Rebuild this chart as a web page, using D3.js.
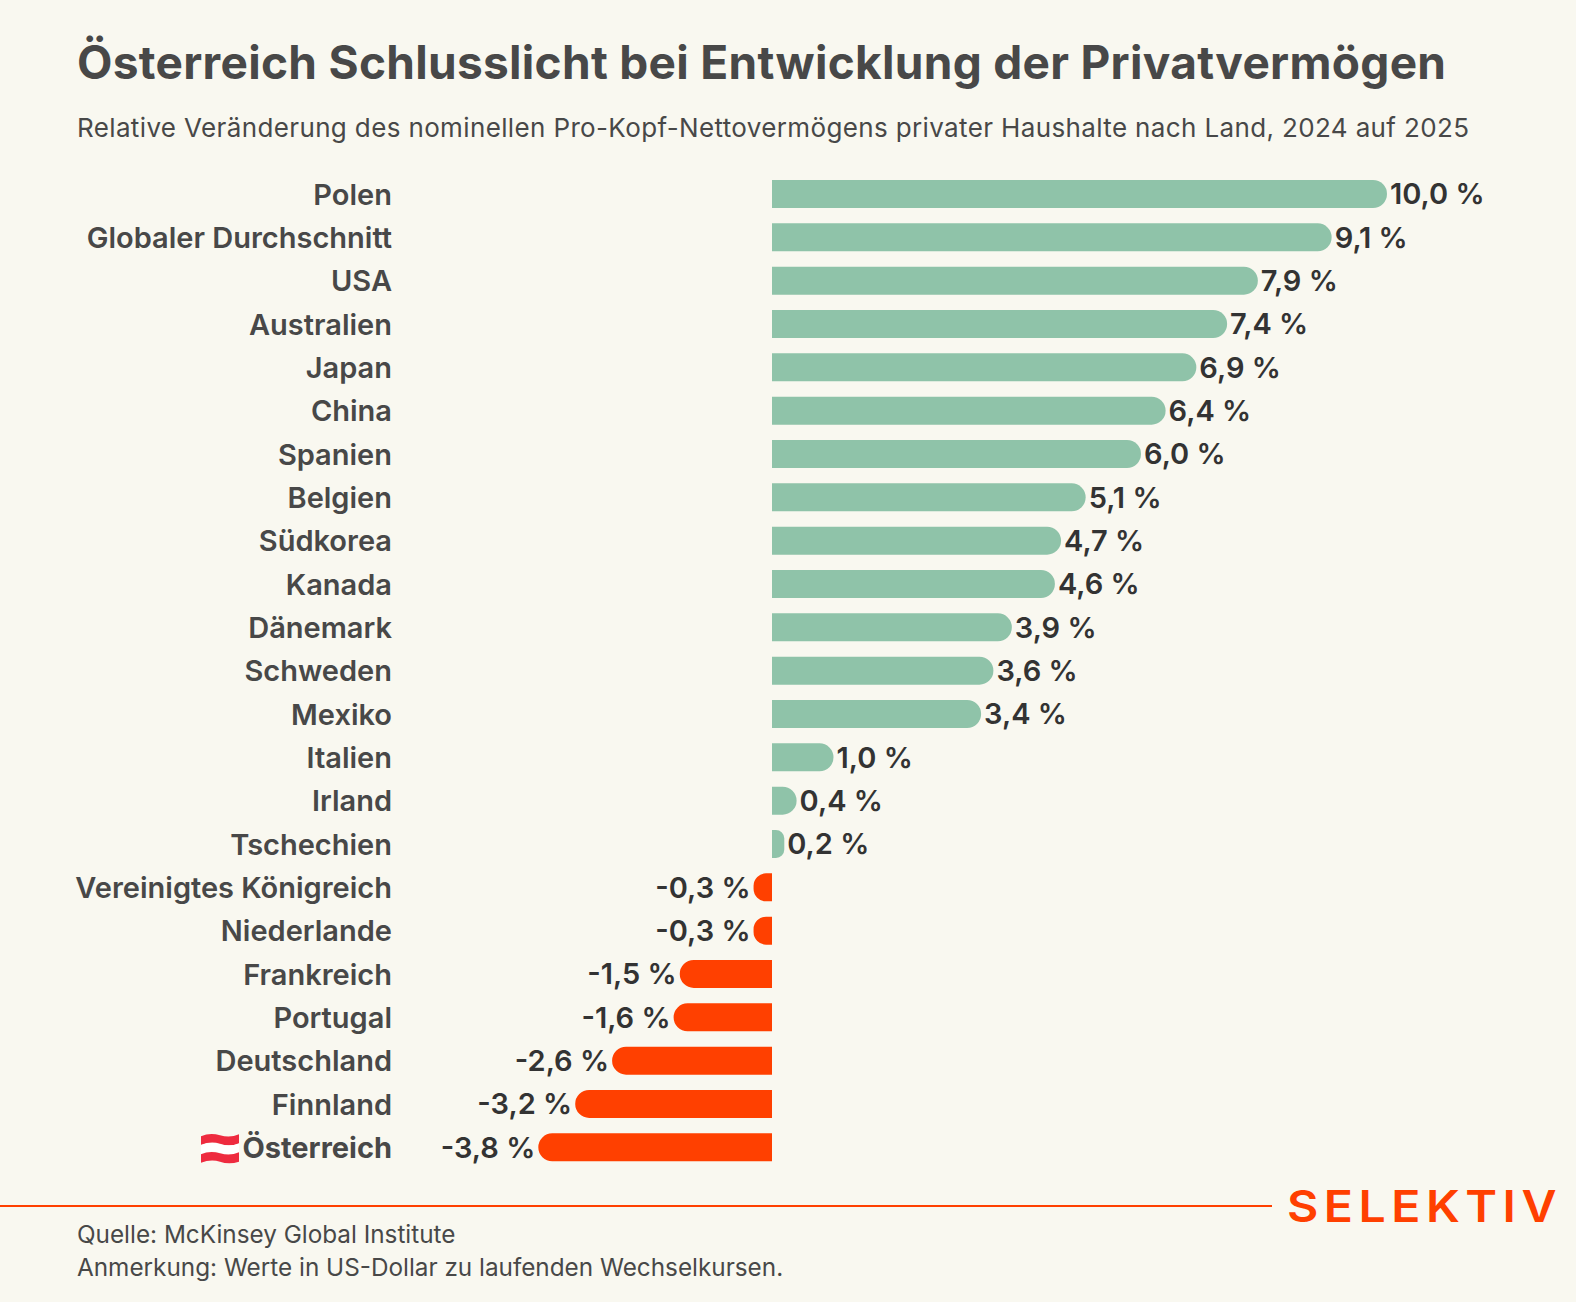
<!DOCTYPE html>
<html lang="de">

<head>
    <meta charset="UTF-8">
    <title>Österreich Schlusslicht bei Entwicklung der Privatvermögen</title>
    <script src="https://d3js.org/d3.v7.min.js"></script>
    <style>
        html, body { margin: 0; padding: 0; background: #F9F8F0; }
        svg { display: block; }
        text { font-family: Inter, "Noto Sans", sans-serif; }
    </style>
</head>

<body>
    <svg width="1576" height="1302"></svg>
    <script>
        const countries = ["Polen", "Globaler Durchschnitt", "USA", "Australien", "Japan", "China", "Spanien", "Belgien", "Südkorea", "Kanada", "Dänemark", "Schweden", "Mexiko", "Italien", "Irland", "Tschechien", "Vereinigtes Königreich", "Niederlande", "Frankreich", "Portugal", "Deutschland", "Finnland", "Österreich"];
        const values = [10.0, 9.1, 7.9, 7.4, 6.9, 6.4, 6.0, 5.1, 4.7, 4.6, 3.9, 3.6, 3.4, 1.0, 0.4, 0.2, -0.3, -0.3, -1.5, -1.6, -2.6, -3.2, -3.8];

        const titleText = "Österreich Schlusslicht bei Entwicklung der Privatvermögen";
        const subtitleText = "Relative Veränderung des nominellen Pro-Kopf-Nettovermögens privater Haushalte nach Land, 2024 auf 2025";
        const sourceLines = ["Quelle: McKinsey Global Institute", "Anmerkung: Werte in US-Dollar zu laufenden Wechselkursen."];

        const svg = d3.select("svg");
        const bg = "#F9F8F0", green = "#8FC3A9", orange = "#FF4000", grey = "#484848", dark = "#333333";

        svg.append("rect").attr("width", 1576).attr("height", 1302).attr("fill", bg);

        const x = d3.scaleLinear().domain([0, 10]).range([772, 1387]);
        const y = d3.scalePoint().domain(countries).range([194, 1147.3]);
        const barH = 28;

        svg.append("text").attr("x", 77).attr("y", 79)
            .attr("font-size", 46).attr("font-weight", 700).attr("fill", grey)
            .attr("textLength", 1369).attr("lengthAdjust", "spacing").text(titleText);

        svg.append("text").attr("x", 77).attr("y", 137)
            .attr("font-size", 26).attr("fill", grey)
            .attr("textLength", 1392).attr("lengthAdjust", "spacing").text(subtitleText);

        // country labels
        const yAxis = svg.append("g")
            .attr("transform", "translate(392,0)")
            .call(d3.axisLeft(y).tickSize(0).tickPadding(0));
        yAxis.select(".domain").remove();
        yAxis.selectAll("text")
            .attr("dy", null).attr("y", 10.3)
            .attr("font-size", 29).attr("font-weight", d => d === "Österreich" ? 700 : 600).attr("fill", grey)
            .style("font-family", "Inter, 'Noto Sans', sans-serif");

        // flat on the zero side, round on the outer end
        function barPath(v) {
            const x0 = x(0), x1 = x(v), w = Math.abs(x1 - x0), h = barH;
            const s = v < 0 ? -1 : 1;
            const r = Math.min(14, w * 0.68);
            const sweep = v < 0 ? 0 : 1;
            return `M${x0},${-h / 2}H${x1 - s * r}A${r},${r} 0 0 ${sweep} ${x1},${-h / 2 + r}` +
                `V${h / 2 - r}A${r},${r} 0 0 ${sweep} ${x1 - s * r},${h / 2}H${x0}Z`;
        }

        const rows = svg.append("g").selectAll("g")
            .data(values)
            .join("g")
            .attr("transform", (d, i) => `translate(0,${y(countries[i])})`);

        rows.append("path")
            .attr("d", d => barPath(d))
            .attr("fill", d => d < 0 ? orange : green);

        rows.append("text")
            .attr("x", d => x(d) + 3 * Math.sign(d))
            .attr("y", 10.3)
            .attr("text-anchor", d => d < 0 ? "end" : "start")
            .attr("font-size", 29).attr("font-weight", 600).attr("fill", dark)
            .text(d => d.toFixed(1).replace(".", ",") + " %");

        // flag in front of the last label
        const flag = svg.append("g").attr("transform", `translate(201,${y("Österreich")})`);
        const stripes = ["#EE2B3F", "#FFFFFF", "#EE2B3F"];
        flag.selectAll("path")
            .data(stripes)
            .join("path")
            .attr("fill", d => d)
            .attr("d", (d, i) => {
                const t = -13 + i * 9, b = t + 9.5;
                return `M0,${t + 2}Q9,${t - 2} 19,${t + 1}T38,${t}V${b}Q28,${b + 3} 19,${b}T0,${b + 1}Z`;
            });

        // footer
        svg.append("line").attr("x1", 0).attr("x2", 1272).attr("y1", 1206).attr("y2", 1206)
            .attr("stroke", orange).attr("stroke-width", 2);

        svg.append("text").attr("x", 1287).attr("y", 1222)
            .attr("font-size", 44).attr("font-weight", 600).attr("fill", orange)
            .style("letter-spacing", "5px")
            .attr("textLength", 275).attr("lengthAdjust", "spacingAndGlyphs").text("SELEKTIV");

        svg.selectAll(".source")
            .data(sourceLines)
            .join("text")
            .attr("class", "source")
            .attr("x", 77).attr("y", (d, i) => 1242.5 + i * 33)
            .attr("font-size", 24.3).attr("fill", grey)
            .text(d => d);
    </script>
</body>

</html>
